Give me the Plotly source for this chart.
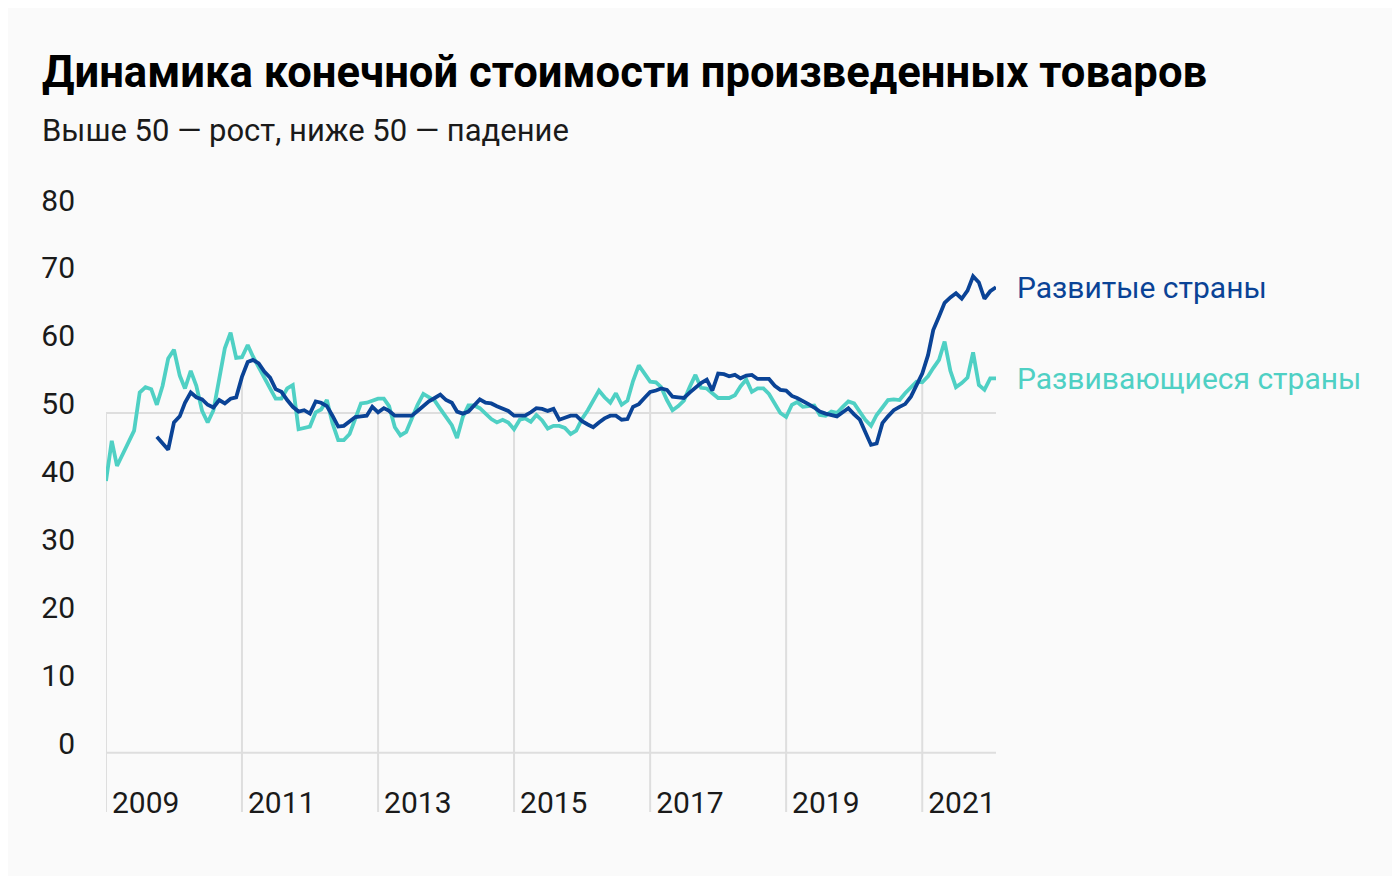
import pandas as pd
import plotly.graph_objects as go

# ---- data (monthly, Jan 2009 .. Feb 2022) ----
months = pd.date_range("2009-01-01", "2022-02-01", freq="MS")

developing = [
    40.0, 45.9, 42.2, 44.0, 45.8, 47.4, 53.0, 53.8, 53.5, 51.2, 54.0, 58.0,   # 2009
    59.3, 55.5, 53.6, 56.2, 54.0, 50.3, 48.6, 50.4, 55.0, 59.5, 61.8, 58.1,   # 2010
    58.2, 60.0, 58.3, 56.8, 55.3, 53.6, 52.1, 52.1, 53.6, 54.1, 47.6, 47.8,   # 2011
    48.0, 50.1, 50.5, 51.9, 48.5, 46.0, 46.0, 46.9, 49.2, 51.4, 51.5, 51.8,   # 2012
    52.1, 52.1, 51.0, 47.9, 46.7, 47.2, 49.1, 51.2, 52.8, 52.3, 51.8, 50.6,   # 2013
    49.3, 48.2, 46.3, 49.4, 51.1, 51.1, 50.7, 49.8, 49.1, 48.6, 49.0, 48.6,   # 2014
    47.6, 49.0, 49.2, 48.7, 49.7, 48.9, 47.7, 48.1, 48.1, 47.8, 46.9, 47.4,   # 2015
    49.1, 50.4, 51.8, 53.3, 52.3, 51.5, 52.9, 51.2, 51.8, 54.7, 57.0, 55.7,   # 2016
    54.6, 54.5, 53.8, 51.9, 50.4, 51.0, 51.8, 53.8, 55.6, 53.7, 53.6, 52.9,   # 2017
    52.2, 52.2, 52.2, 52.6, 53.9, 54.9, 53.1, 53.6, 53.6, 52.8, 51.3, 50.0,   # 2018
    49.4, 51.2, 51.6, 50.9, 51.0, 51.1, 49.7, 49.6, 50.2, 50.0, 50.9, 51.7,   # 2019
    51.4, 50.2, 49.0, 48.1, 49.7, 50.8, 51.9, 52.0, 51.9, 52.9, 53.8, 54.6,   # 2020
    54.5, 55.4, 56.6, 57.8, 60.5, 56.2, 53.8, 54.4, 55.2, 58.9, 54.1, 53.4,   # 2021
    55.1, 55.1,                                                               # 2022
]

developed = [
    None, None, None, None, None, None, None, None, None, 46.5, 45.5, 44.6,   # 2009
    48.6, 49.5, 51.5, 53.0, 52.3, 52.0, 51.2, 50.8, 51.9, 51.4, 52.1, 52.3,   # 2010
    55.3, 57.5, 57.8, 57.3, 56.1, 55.2, 53.5, 53.1, 51.9, 50.9, 50.2, 50.4,   # 2011
    49.9, 51.7, 51.5, 51.0, 49.6, 48.0, 48.1, 48.7, 49.4, 49.5, 49.6, 50.9,   # 2012
    50.1, 50.7, 50.3, 49.6, 49.6, 49.6, 49.6, 50.3, 51.0, 51.7, 52.2, 52.7,   # 2013
    51.9, 51.5, 50.2, 49.9, 50.2, 51.1, 52.0, 51.5, 51.4, 51.0, 50.6, 50.3,   # 2014
    49.6, 49.6, 49.6, 50.1, 50.7, 50.6, 50.3, 50.6, 49.0, 49.3, 49.6, 49.6,   # 2015
    48.8, 48.3, 47.9, 48.6, 49.2, 49.6, 49.6, 49.0, 49.1, 50.9, 51.3, 52.2,   # 2016
    53.1, 53.3, 53.6, 53.4, 52.4, 52.3, 52.2, 53.0, 53.7, 54.4, 54.9, 53.3,   # 2017
    55.8, 55.7, 55.4, 55.6, 55.1, 55.5, 55.6, 55.0, 55.0, 55.0, 54.0, 53.4,   # 2018
    53.3, 52.5, 52.2, 51.8, 51.3, 50.8, 50.2, 49.9, 49.7, 49.5, 50.1, 50.7,   # 2019
    49.8, 49.0, 47.2, 45.3, 45.5, 48.5, 49.5, 50.4, 50.9, 51.3, 52.4, 54.1,   # 2020
    55.8, 58.5, 62.2, 64.2, 66.2, 67.0, 67.6, 66.8, 68.0, 70.1, 69.2, 66.8,   # 2021
    67.9, 68.5,                                                               # 2022
]

series_names = ["Развитые страны", "Развивающиеся страны"]
year_ticks = ["2009", "2011", "2013", "2015", "2017", "2019", "2021"]
y_ticks = [0, 10, 20, 30, 40, 50, 60, 70, 80]

title_text = "Динамика конечной стоимости произведенных товаров"
subtitle_text = "Выше 50 — рост, ниже 50 — падение"

# ---- style ----
C_DEV = "#0a4396"
C_EMG = "#4fd0c4"
C_GRID = "#dedede"
BG = "#fafafa"
FONT = "Roboto"

# the page adds an 8px body margin, so the figure is 16px smaller than the window
W, H = 1384, 868
L, R, T, B = 98, 987.7, 201, 804
PW, PH = R - L, B - T


def px(x):
    return (x - L) / PW


def py(y):
    return (B - y) / PH


Y_MIN = -8.7

fig = go.Figure()

# vertical "drop" gridlines, from the lower series down to the bottom
s_dev = pd.Series(developed, index=months, dtype="float")
s_emg = pd.Series(developing, index=months, dtype="float")
shapes = []
for yr in year_ticks:
    d = pd.Timestamp(f"{yr}-01-01")
    vals = [v for v in (s_dev.get(d), s_emg.get(d)) if v is not None and not pd.isna(v)]
    top = max(min(vals), 50) if len(vals) == 1 else min(vals)
    shapes.append(dict(type="line", xref="x", yref="y", x0=d, x1=d, y0=top, y1=Y_MIN,
                       line=dict(color=C_GRID, width=2), layer="below"))
for lvl in (0, 50):
    shapes.append(dict(type="line", xref="paper", yref="y", x0=0, x1=1, y0=lvl, y1=lvl,
                       line=dict(color=C_GRID, width=2), layer="below"))

fig.add_trace(go.Scatter(x=months, y=developing, mode="lines", name=series_names[1],
                         line=dict(color=C_EMG, width=3.8), connectgaps=False,
                         hoverinfo="skip"))
fig.add_trace(go.Scatter(x=months, y=developed, mode="lines", name=series_names[0],
                         line=dict(color=C_DEV, width=3.8), connectgaps=False,
                         hoverinfo="skip"))

annotations = [
    dict(text=f"<b>{title_text}</b>", xref="paper", yref="paper", x=px(32), y=py(65),
         xanchor="left", yanchor="middle", showarrow=False,
         font=dict(family=FONT, size=43.6, color="#000000")),
    dict(text=subtitle_text, xref="paper", yref="paper", x=px(32), y=py(122),
         xanchor="left", yanchor="middle", showarrow=False,
         font=dict(family=FONT, size=31, color="#1a1a1a")),
    dict(text=series_names[0], xref="x", yref="y", x=months[-1], y=developed[-1],
         xanchor="left", yanchor="middle", xshift=19, showarrow=False,
         font=dict(family=FONT, size=30, color=C_DEV)),
    dict(text=series_names[1], xref="x", yref="y", x=months[-1], y=developing[-1],
         xanchor="left", yanchor="middle", xshift=19, showarrow=False,
         font=dict(family=FONT, size=30, color=C_EMG)),
]

fig.update_layout(
    width=W, height=H,
    margin=dict(l=L, r=W - R, t=T, b=H - B, pad=0),
    paper_bgcolor=BG, plot_bgcolor=BG,
    showlegend=False,
    shapes=shapes,
    annotations=annotations,
    font=dict(family=FONT, color="#1a1a1a"),
)
fig.update_xaxes(
    type="date",
    range=[months[0], months[-1]],
    tickvals=[pd.Timestamp(f"{y}-01-01") for y in year_ticks],
    ticktext=year_ticks,
    ticklabelposition="inside right",
    ticklabelshift=6,
    ticklabelstandoff=-13,
    showgrid=False, zeroline=False, showline=False, ticks="",
    tickfont=dict(family=FONT, size=30, color="#1a1a1a"),
)
fig.update_yaxes(
    range=[Y_MIN, 80],
    tickvals=y_ticks,
    showgrid=False, zeroline=False, showline=False, ticks="",
    ticklabelshift=-9,
    ticklabelstandoff=30,
    tickfont=dict(family=FONT, size=30, color="#1a1a1a"),
)

fig.write_html("out.html")
